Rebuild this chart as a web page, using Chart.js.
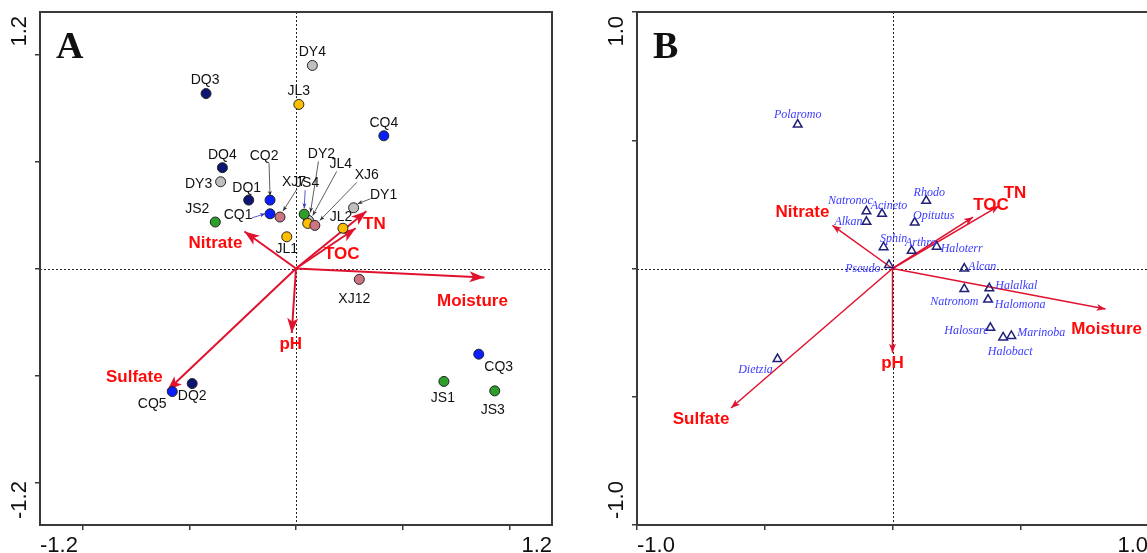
<!DOCTYPE html>
<html><head><meta charset="utf-8">
<script src="https://cdn.jsdelivr.net/npm/chart.js@4.4.0/dist/chart.umd.min.js"></script>
<style>
html,body{margin:0;padding:0;background:#fff;overflow:hidden;width:1147px;height:553px;}
#wa{position:absolute;left:0;top:0;width:575px;height:553px;}
#wb{position:absolute;left:597px;top:0;width:575px;height:553px;}
</style></head><body>
<div id="wa"><canvas id="ca"></canvas></div>
<div id="wb"><canvas id="cb"></canvas></div>
<script>
// ---------- Panel A : sample scores ----------
const sampleNames = ['DY2','DQ3','DY4','JL3','CQ4','DQ4','DY3','DQ1','CQ2','CQ1','XJ7','JS2','JS4','JL4','XJ6','DY1','JL2','JL1','XJ12','CQ3','JS1','JS3','DQ2','CQ5'];
const sampleX = [0.07,-0.506,0.092,0.016,0.494,-0.414,-0.424,-0.266,-0.146,-0.146,-0.09,-0.454,0.046,0.066,0.106,0.324,0.264,-0.052,0.356,1.028,0.832,1.118,-0.584,-0.696];
const sampleY = [0.27,0.982,1.14,0.921,0.745,0.566,0.487,0.384,0.384,0.307,0.289,0.261,0.305,0.253,0.242,0.341,0.226,0.178,-0.061,-0.481,-0.634,-0.687,-0.646,-0.691];
const sampleGroup = ['DY','DQ','DY','JL','CQ','DQ','DY','DQ','CQ','CQ','XJ','JS','JS','JL','XJ','DY','JL','JL','XJ','CQ','JS','JS','DQ','CQ'];

// ---------- environmental vectors ----------
const envNames = ['Moisture','TN','TOC','Nitrate','pH','Sulfate'];
const envAX = [1.06,0.396,0.336,-0.29,-0.024,-0.724];
const envAY = [-0.05,0.321,0.226,0.208,-0.362,-0.685];
const envBX = [0.834,0.417,0.315,-0.235,0.0,-0.632];
const envBY = [-0.158,0.244,0.2,0.168,-0.328,-0.544];

// ---------- Panel B : taxa scores ----------
const taxaNames = ['Polaromo','Rhodo','Natronoc','Acineto','Alkan','Opitutus','Sphin','Arthro','Haloterr','Pseudo','Alcan','Halalkal','Natronom','Halomona','Halosarc','Halobact','Marinoba','Dietzia'];
const taxaX = [-0.371,0.132,-0.102,-0.041,-0.102,0.087,-0.035,0.075,0.173,-0.014,0.281,0.379,0.281,0.374,0.383,0.433,0.465,-0.45];
const taxaY = [0.561,0.264,0.223,0.213,0.182,0.179,0.083,0.069,0.085,0.014,0.0,-0.077,-0.08,-0.121,-0.231,-0.269,-0.263,-0.353];

// ---------- axes ----------
const ticksA = [-1.2,-0.6,0,0.6,1.2];
const endLabelsA = ['-1.2','1.2'];
const ticksB = [-1.0,-0.5,0,0.5,1.0];
const endLabelsB = ['-1.0','1.0'];

// ---------- styling / label layout (pixels) ----------
const groupColor = {DQ:'#0d1670',CQ:'#0a1eff',DY:'#bfbfbf',JL:'#ffbf00',JS:'#2e9e2a',XJ:'#cc7483'};
const RED_LINE = '#e0122e', RED_TEXT = '#ff0a0a';
const labelA = {
  DQ3:{d:[-1,-13]}, DY4:{d:[0,-13]}, JL3:{d:[0,-13]}, CQ4:{d:[0,-13]}, DQ4:{d:[0,-13]},
  DY3:{d:[-22,2]}, DQ1:{d:[-2,-12]},
  CQ2:{d:[-6,-44], lead:[5,7,0,-4]},
  CQ1:{d:[-32,1], lead:[14,3,-5,0], col:'#3030c0'},
  XJ7:{d:[14,-35], lead:[3,7,3,-6]},
  JS4:{d:[3,-31], lead:[-2,7,0,-6], col:'#3030c0'},
  DY2:{d:[13,-66], lead:[-3,7,2,-8]},
  JL4:{d:[33,-59], lead:[-4,7,5,-8]},
  XJ6:{d:[52,-50], lead:[-10,7,5,-5]},
  DY1:{d:[30,-13], lead:[-13,4,4,-4]},
  JS2:{d:[-18,-13]}, JL2:{d:[-2,-11]}, JL1:{d:[0,12]}, XJ12:{d:[-5,20]},
  CQ3:{d:[20,13]}, JS1:{d:[-1,17]}, JS3:{d:[-2,19]}, DQ2:{d:[0,13]}, CQ5:{d:[-20,13]}
};
const envOffA = [[-12,24],[8,13],[-14,26],[-29,12],[-1,11],[-33,-13]];
const envOffB = [[1,20],[16,-13],[18,-12],[-30,-13],[0,11],[-30,11]];
const taxaOff = [[0,-10],[3,-8],[-16,-10],[7,-8],[-18,0],[19,-7],[10,-8],[9,-8],[25,2],[-26,4],[18,-2],[27,-2],[-10,13],[32,5],[-24,3],[7,14],[30,-3],[-22,11]];

function arrowHead(ctx,x0,y0,x1,y1,len,hw,color){
  const a=Math.atan2(y1-y0,x1-x0), c=Math.cos(a), s=Math.sin(a);
  ctx.save();ctx.fillStyle=color;ctx.beginPath();
  ctx.moveTo(x1,y1);
  ctx.lineTo(x1-len*c+hw*s, y1-len*s-hw*c);
  ctx.lineTo(x1-len*0.75*c, y1-len*0.75*s);
  ctx.lineTo(x1-len*c-hw*s, y1-len*s+hw*c);
  ctx.closePath();ctx.fill();ctx.restore();
}

function makeDeco(o){
  return {
    id:'deco'+o.letter,
    beforeDatasetsDraw(chart){
      const {ctx,chartArea:a,scales:{x,y}}=chart;
      ctx.save();
      ctx.strokeStyle='#222';ctx.lineWidth=1;ctx.setLineDash([2,2]);
      const x0=Math.round(x.getPixelForValue(0))+0.5, y0=Math.round(y.getPixelForValue(0))+0.5;
      ctx.beginPath();ctx.moveTo(x0,a.top);ctx.lineTo(x0,a.bottom);
      ctx.moveTo(a.left,y0);ctx.lineTo(a.right,y0);ctx.stroke();
      ctx.restore();
      for(let i=0;i<o.envX.length;i++){
        arrowHead(ctx,x.getPixelForValue(0),y.getPixelForValue(0),x.getPixelForValue(o.envX[i]),y.getPixelForValue(o.envY[i]),o.headLen,o.headHW,RED_LINE);
      }
    },
    afterDatasetsDraw(chart){
      const {ctx,scales:{x,y}}=chart;
      ctx.save();
      ctx.fillStyle=RED_TEXT;ctx.font='bold 17px "Liberation Sans", Arial, sans-serif';
      ctx.textAlign='center';ctx.textBaseline='middle';
      for(let i=0;i<o.envX.length;i++){
        ctx.fillText(envNames[i], x.getPixelForValue(o.envX[i])+o.envOff[i][0], y.getPixelForValue(o.envY[i])+o.envOff[i][1]);
      }
      ctx.restore();
      o.labels(chart);
    },
    afterDraw(chart){
      const {ctx,chartArea:a}=chart;
      ctx.save();
      ctx.strokeStyle='#3a3a3a';ctx.lineWidth=2;
      ctx.strokeRect(a.left,a.top,a.right-a.left,a.bottom-a.top);
      ctx.fillStyle='#111';
      ctx.font='22px "Liberation Sans", Arial, sans-serif';
      ctx.textBaseline='alphabetic';
      ctx.textAlign='left';ctx.fillText(o.end[0],a.left,552);
      ctx.textAlign='right';ctx.fillText(o.end[1],a.right,552);
      ctx.textBaseline='middle';
      ctx.save();ctx.translate(a.left-20,a.top+4);ctx.rotate(-Math.PI/2);ctx.textAlign='right';ctx.fillText(o.end[1],0,0);ctx.restore();
      ctx.save();ctx.translate(a.left-20,a.bottom-6);ctx.rotate(-Math.PI/2);ctx.textAlign='left';ctx.fillText(o.end[0],0,0);ctx.restore();
      ctx.font='bold 38px "Liberation Serif", "Times New Roman", serif';
      ctx.textAlign='left';ctx.textBaseline='alphabetic';
      ctx.fillText(o.letter,a.left+16,58);
      ctx.restore();
    }
  };
}

function axisCfg(ticks,lim,isX){
  return {
    type:'linear',min:-lim,max:lim,
    afterBuildTicks:s=>{s.ticks=ticks.map(v=>({value:v}));},
    afterFit:s=>{ if(isX) s.height=28; else s.width=40; },
    ticks:{callback:()=>'',padding:0},
    grid:{drawOnChartArea:false,drawTicks:true,tickLength:5,color:'#3a3a3a',lineWidth:1.5},
    border:{display:true,color:'#3a3a3a',width:2}
  };
}

function envDatasets(ex,ey,w){
  return envNames.map((n,i)=>({
    label:n,data:[{x:0,y:0},{x:ex[i],y:ey[i]}],showLine:true,pointRadius:0,
    borderColor:RED_LINE,borderWidth:w,order:2
  }));
}

// ----- Chart A -----
const labelsA = chart=>{
  const {ctx,scales:{x,y}}=chart;
  ctx.save();
  ctx.font='14px "Liberation Sans", Arial, sans-serif';
  ctx.textAlign='center';ctx.textBaseline='middle';
  sampleNames.forEach((n,i)=>{
    const L=labelA[n]; const px=x.getPixelForValue(sampleX[i]), py=y.getPixelForValue(sampleY[i]);
    const lx=px+L.d[0], ly=py+L.d[1];
    ctx.fillStyle='#111';ctx.fillText(n,lx,ly);
    if(L.lead){
      const sx=lx+L.lead[0], sy=ly+L.lead[1], exx=px+L.lead[2], eyy=py+L.lead[3];
      const c=L.col||'#333';
      ctx.strokeStyle=c;ctx.lineWidth=0.8;ctx.beginPath();ctx.moveTo(sx,sy);ctx.lineTo(exx,eyy);ctx.stroke();
      arrowHead(ctx,sx,sy,exx,eyy,5,2,c);
    }
  });
  ctx.restore();
};

new Chart(document.getElementById('ca'),{
  type:'scatter',
  data:{datasets:[
    {label:'samples',data:sampleNames.map((n,i)=>({x:sampleX[i],y:sampleY[i]})),
     pointRadius:5,pointHoverRadius:5,borderWidth:1,borderColor:'#222',
     backgroundColor:ctx=>groupColor[sampleGroup[ctx.dataIndex]]||'#000',order:0},
    ...envDatasets(envAX,envAY,2)
  ]},
  options:{
    responsive:true,maintainAspectRatio:false,animation:false,
    layout:{padding:{left:0,top:12,right:23,bottom:0}},
    plugins:{legend:{display:false},tooltip:{enabled:false}},
    scales:{x:axisCfg(ticksA,1.44,true),y:axisCfg(ticksA,1.44,false)}
  },
  plugins:[makeDeco({letter:'A',envX:envAX,envY:envAY,envOff:envOffA,headLen:15,headHW:5.5,end:endLabelsA,labels:labelsA})]
});

// ----- Chart B -----
const labelsB = chart=>{
  const {ctx,scales:{x,y}}=chart;
  ctx.save();
  ctx.font='italic 12px "Liberation Serif", "Times New Roman", serif';
  ctx.textAlign='center';ctx.textBaseline='middle';ctx.fillStyle='#3b3bff';
  taxaNames.forEach((n,i)=>{
    ctx.fillText(n,x.getPixelForValue(taxaX[i])+taxaOff[i][0],y.getPixelForValue(taxaY[i])+taxaOff[i][1]);
  });
  ctx.restore();
};

new Chart(document.getElementById('cb'),{
  type:'scatter',
  data:{datasets:[
    {label:'taxa',data:taxaNames.map((n,i)=>({x:taxaX[i],y:taxaY[i]})),
     pointStyle:'triangle',pointRadius:5,pointHoverRadius:5,borderWidth:1.5,
     borderColor:'#202078',backgroundColor:'rgba(0,0,0,0)',order:0},
    ...envDatasets(envBX,envBY,1.5)
  ]},
  options:{
    responsive:true,maintainAspectRatio:false,animation:false,
    layout:{padding:{left:0,top:12,right:24,bottom:0}},
    plugins:{legend:{display:false},tooltip:{enabled:false}},
    scales:{x:axisCfg(ticksB,1.0,true),y:axisCfg(ticksB,1.0,false)}
  },
  plugins:[makeDeco({letter:'B',envX:envBX,envY:envBY,envOff:envOffB,headLen:9,headHW:3.5,end:endLabelsB,labels:labelsB})]
});
</script>
</body></html>
